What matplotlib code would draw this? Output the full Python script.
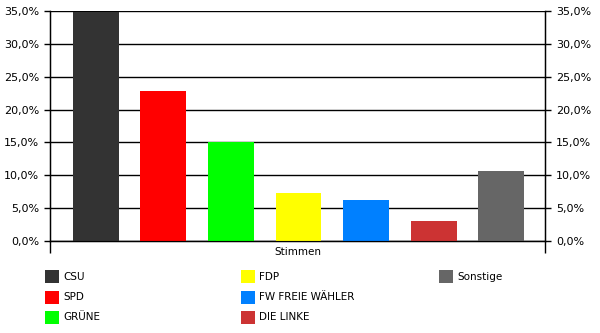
import matplotlib
matplotlib.use("Agg")
import matplotlib.pyplot as plt
from matplotlib.patches import Rectangle

parties = ["CSU", "SPD", "GRÜNE", "FDP", "FW FREIE WÄHLER", "DIE LINKE", "Sonstige"]
values = [34.8, 22.9, 15.0, 7.3, 6.2, 3.1, 10.7]
colors = ["#333333", "#FF0000", "#00FF00", "#FFFF00", "#0080FF", "#CC3333", "#666666"]
yticks = [0, 5, 10, 15, 20, 25, 30, 35]
category = "Stimmen"

plt.rcParams['font.family'] = ['DejaVu Sans']
plt.rcParams['font.size'] = 8

fig = plt.figure(figsize=(6, 3.33), dpi=100)
ax = fig.add_axes([50/600, 1-241/333, 495/600, 230/333])

x = list(range(len(parties)))
bars = ax.bar(x, values, width=0.68, color=colors, zorder=3)

ticklabels = [f"{v:.1f}".replace(".", ",") + "%" for v in yticks]

ax.set_xlim(-0.68, 6.65)
ax.set_ylim(0, 35)
ax.set_yticks(yticks)
ax.set_yticklabels(ticklabels)
ax.yaxis.grid(True, color="black", linewidth=1, zorder=1)
ax.set_axisbelow(True)
ax.tick_params(axis='y', direction='out', length=4, width=1, pad=4, colors='black')
ax.set_xticks([-0.68, 6.65])
ax.set_xticklabels(["", ""])
ax.tick_params(axis='x', direction='out', length=8.5, width=1)
ax.spines["top"].set_visible(False)
for s in ["left", "right", "bottom"]:
    ax.spines[s].set_color("black")
    ax.spines[s].set_linewidth(1)

ax2 = ax.twinx()
ax2.set_ylim(0, 35)
ax2.set_yticks(yticks)
ax2.set_yticklabels(ticklabels)
ax2.tick_params(axis='y', direction='out', length=4, width=1, pad=4, colors='black')
ax2.spines["top"].set_visible(False)

ax.text(0.5, -0.025, category, transform=ax.transAxes, ha='center', va='top', fontsize=7.5)

# legend: 3 columns filled column-wise
col_x = [45/600, 241/600, 439/600]
row_y = [1-276.5/333, 1-297/333, 1-317/333]
for i, (p, c) in enumerate(zip(parties, colors)):
    col, row = divmod(i, 3)
    fx, fy = col_x[col], row_y[row]
    fig.add_artist(Rectangle((fx, fy - 6.5/333), 13.5/600, 13/333,
                             transform=fig.transFigure, facecolor=c, edgecolor='none'))
    fig.text(fx + 18/600, fy, p, ha='left', va='center', fontsize=7.5)

fig.savefig("out.png", dpi=100, facecolor="white")
